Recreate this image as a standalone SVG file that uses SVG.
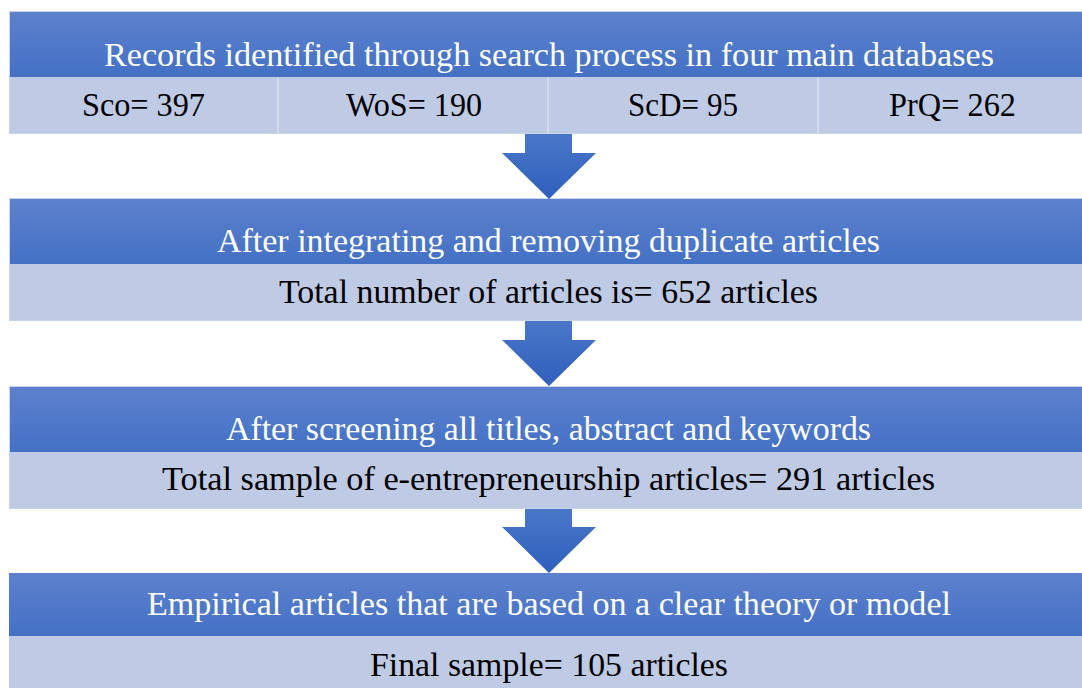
<svg xmlns="http://www.w3.org/2000/svg" width="1082" height="688" viewBox="0 0 1082 688">
  <defs>
    <linearGradient id="hdr" x1="0" y1="0" x2="0" y2="1">
      <stop offset="0" stop-color="#5d81cd"/>
      <stop offset="1" stop-color="#4471c5"/>
    </linearGradient>
    <linearGradient id="arw" x1="0" y1="0" x2="0" y2="1">
      <stop offset="0" stop-color="#4a77c8"/>
      <stop offset="1" stop-color="#2f5fbd"/>
    </linearGradient>
    <style>
      .hdr { fill: url(#hdr); }
      .row { fill: #bfcae4; }
      .frame { fill: none; stroke: #c9d3ea; stroke-width: 1; }
      .div { stroke: #d3dbef; stroke-width: 2; }
      .ht { font-family: "Liberation Serif", "DejaVu Serif", serif; font-size: 33px; fill: #ffffff; text-anchor: middle; }
      .rt { font-family: "Liberation Serif", "DejaVu Serif", serif; font-size: 33px; fill: #000000; text-anchor: middle; }
      .arrow { fill: url(#arw); }
    </style>
  </defs>

  <rect width="1082" height="688" fill="#ffffff"/>

  <!-- Stage 1: database search -->
  <g id="stage-search">
    <rect class="hdr" x="9" y="11" width="1080" height="66"/>
    <rect class="row" x="9" y="77" width="1080" height="57"/>
    <line class="div" x1="278" y1="78" x2="278" y2="133"/>
    <line class="div" x1="548" y1="78" x2="548" y2="133"/>
    <line class="div" x1="818" y1="78" x2="818" y2="133"/>
    <rect class="frame" x="9.5" y="11.5" width="1080" height="122"/>
    <text class="ht" x="549" y="66" textLength="890" lengthAdjust="spacingAndGlyphs">Records identified through search process in four main databases</text>
    <text class="rt" x="143.5" y="116" textLength="123" lengthAdjust="spacingAndGlyphs">Sco= 397</text>
    <text class="rt" x="414" y="116" textLength="136" lengthAdjust="spacingAndGlyphs">WoS= 190</text>
    <text class="rt" x="683" y="116" textLength="110" lengthAdjust="spacingAndGlyphs">ScD= 95</text>
    <text class="rt" x="952.5" y="116" textLength="127" lengthAdjust="spacingAndGlyphs">PrQ= 262</text>
  </g>

  <!-- Stage 2: duplicates removed -->
  <g id="stage-dedup">
    <rect class="hdr" x="9" y="198" width="1080" height="66"/>
    <rect class="row" x="9" y="264" width="1080" height="57"/>
    <rect class="frame" x="9.5" y="198.5" width="1080" height="122"/>
    <text class="ht" x="548.5" y="252" textLength="663" lengthAdjust="spacingAndGlyphs">After integrating and removing duplicate articles</text>
    <text class="rt" x="548.5" y="303" textLength="539" lengthAdjust="spacingAndGlyphs">Total number of articles is= 652 articles</text>
  </g>

  <!-- Stage 3: screening -->
  <g id="stage-screen">
    <rect class="hdr" x="9" y="386" width="1080" height="66"/>
    <rect class="row" x="9" y="452" width="1080" height="57"/>
    <rect class="frame" x="9.5" y="386.5" width="1080" height="122"/>
    <text class="ht" x="548.5" y="440" textLength="645" lengthAdjust="spacingAndGlyphs">After screening all titles, abstract and keywords</text>
    <text class="rt" x="548.5" y="490" textLength="773" lengthAdjust="spacingAndGlyphs">Total sample of e-entrepreneurship articles= 291 articles</text>
  </g>

  <!-- Stage 4: final sample -->
  <g id="stage-final">
    <rect class="hdr" x="9" y="573" width="1080" height="63"/>
    <rect class="row" x="9" y="636" width="1080" height="52"/>
    <text class="ht" x="549" y="615" textLength="804" lengthAdjust="spacingAndGlyphs">Empirical articles that are based on a clear theory or model</text>
    <text class="rt" x="549" y="676" textLength="358" lengthAdjust="spacingAndGlyphs">Final sample= 105 articles</text>
  </g>

  <!-- Connectors: block arrows between stages -->
  <g id="connectors">
    <polygon class="arrow" points="525,134 572,134 572,153 596,153 549,199 502,153 525,153"/>
    <polygon class="arrow" points="525,321 572,321 572,340 596,340 549,386 502,340 525,340"/>
    <polygon class="arrow" points="525,509 572,509 572,527 596,527 549,573 502,527 525,527"/>
  </g>
</svg>
